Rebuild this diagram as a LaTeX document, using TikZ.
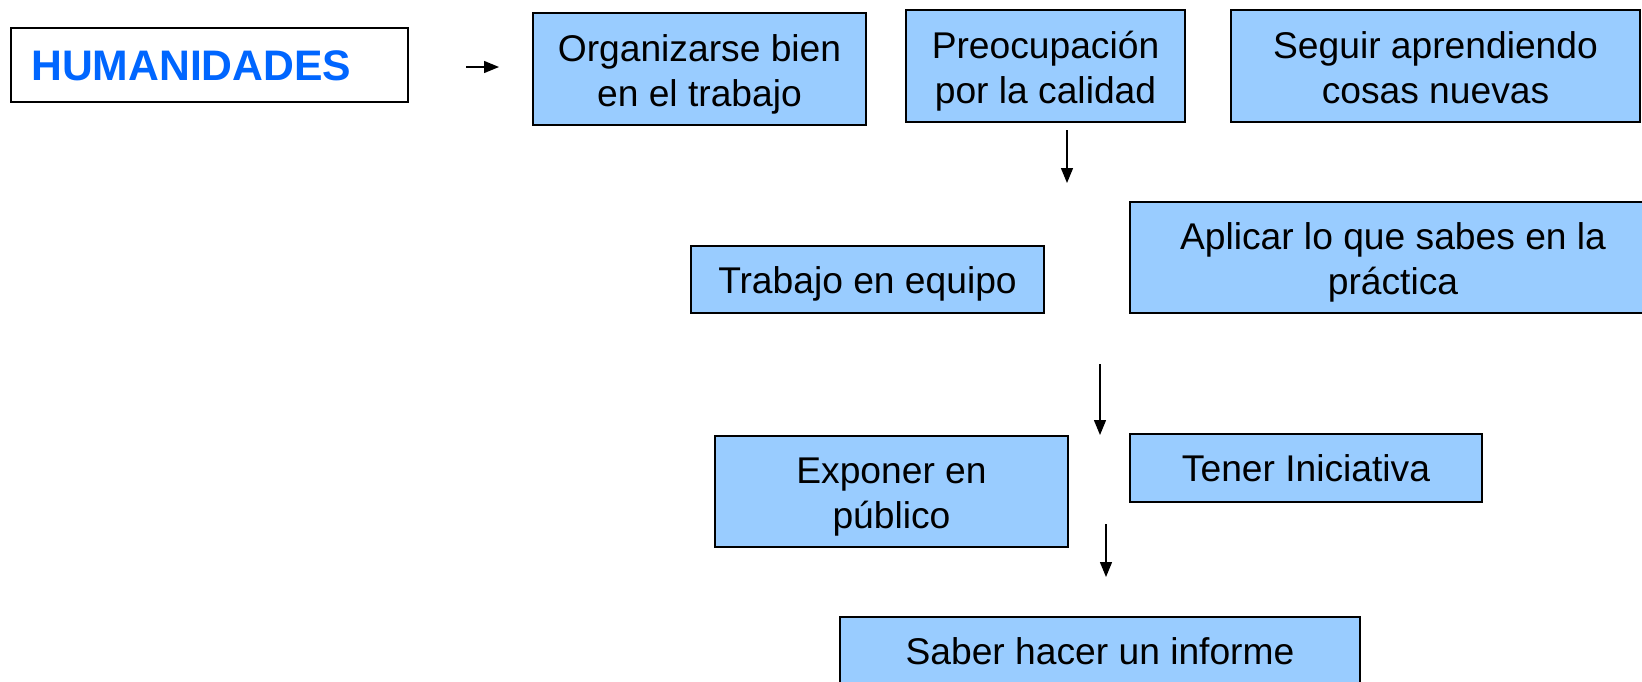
\documentclass[tikz,border=0pt]{standalone}
\usepackage{fontspec}
\setmainfont{Liberation Sans}
\usetikzlibrary{arrows.meta}
\definecolor{boxblue}{HTML}{99CCFF}
\definecolor{titleblue}{HTML}{0066FF}
\newcommand{\toplinestrut}{\rule{0pt}{37.2pt}}
\tikzset{
  stepbox/.style={draw=black, fill=boxblue, line width=1.5pt, inner sep=0pt, align=center,
    font=\fontsize{37.2}{45}\selectfont,
    execute at begin node={\rule{0pt}{35pt}},
    execute at end node={\rule[-8pt]{0pt}{0pt}}},
  titlebox/.style={draw=black, fill=white, line width=1.5pt, inner sep=0pt},
  flowarrow/.style={line width=1.4pt, -{Triangle[length=15pt,width=12pt]}}
}
\begin{document}
\begin{tikzpicture}[x=1pt,y=-1pt]
\useasboundingbox (0,0) rectangle (1642,681);
\fill[white] (0,0) rectangle (1642,681);
% title
\node[titlebox, minimum width=397pt, minimum height=74pt] (hum) at (209.5,65) {};
\node[anchor=west, text=titleblue, font=\fontsize{42.7}{48}\selectfont\bfseries, inner sep=0pt] (humt) at (31,66) {HUMANIDADES};
% boxes
\node[stepbox, minimum width=333pt, minimum height=112pt] (org) at (699.5,69) {\toplinestrut Organizarse bien\\en el trabajo};
\node[stepbox, minimum width=279pt, minimum height=112pt] (pre) at (1045.5,66) {\toplinestrut Preocupación\\por la calidad};
\node[stepbox, minimum width=409pt, minimum height=112pt] (seg) at (1435.5,66) {\toplinestrut Seguir aprendiendo\\cosas nuevas};
\node[stepbox, minimum width=353pt, minimum height=67pt] (tra) at (867.5,279.5) {Trabajo en equipo};
\node[stepbox, minimum width=526pt, minimum height=111pt] (apl) at (1393,257.5) {\toplinestrut Aplicar lo que sabes en la\\práctica};
\node[stepbox, minimum width=353pt, minimum height=111pt] (exp) at (891.5,491.5) {\toplinestrut Exponer en\\público};
\node[stepbox, minimum width=352pt, minimum height=68pt] (ten) at (1306,468) {Tener Iniciativa};
\node[stepbox, minimum width=520pt, minimum height=68pt] (sab) at (1100,651) {Saber hacer un informe};
% arrows (free-floating)
\coordinate (a1s) at (466,67); \coordinate (a1e) at (499,67);
\coordinate (a2s) at (1067,130); \coordinate (a2e) at (1067,183);
\coordinate (a3s) at (1100,364); \coordinate (a3e) at (1100,435);
\coordinate (a4s) at (1106,524); \coordinate (a4e) at (1106,577);
\draw[flowarrow] (a1s) -- (a1e);
\draw[flowarrow] (a2s) -- (a2e);
\draw[flowarrow] (a3s) -- (a3e);
\draw[flowarrow] (a4s) -- (a4e);
\end{tikzpicture}
\end{document}
